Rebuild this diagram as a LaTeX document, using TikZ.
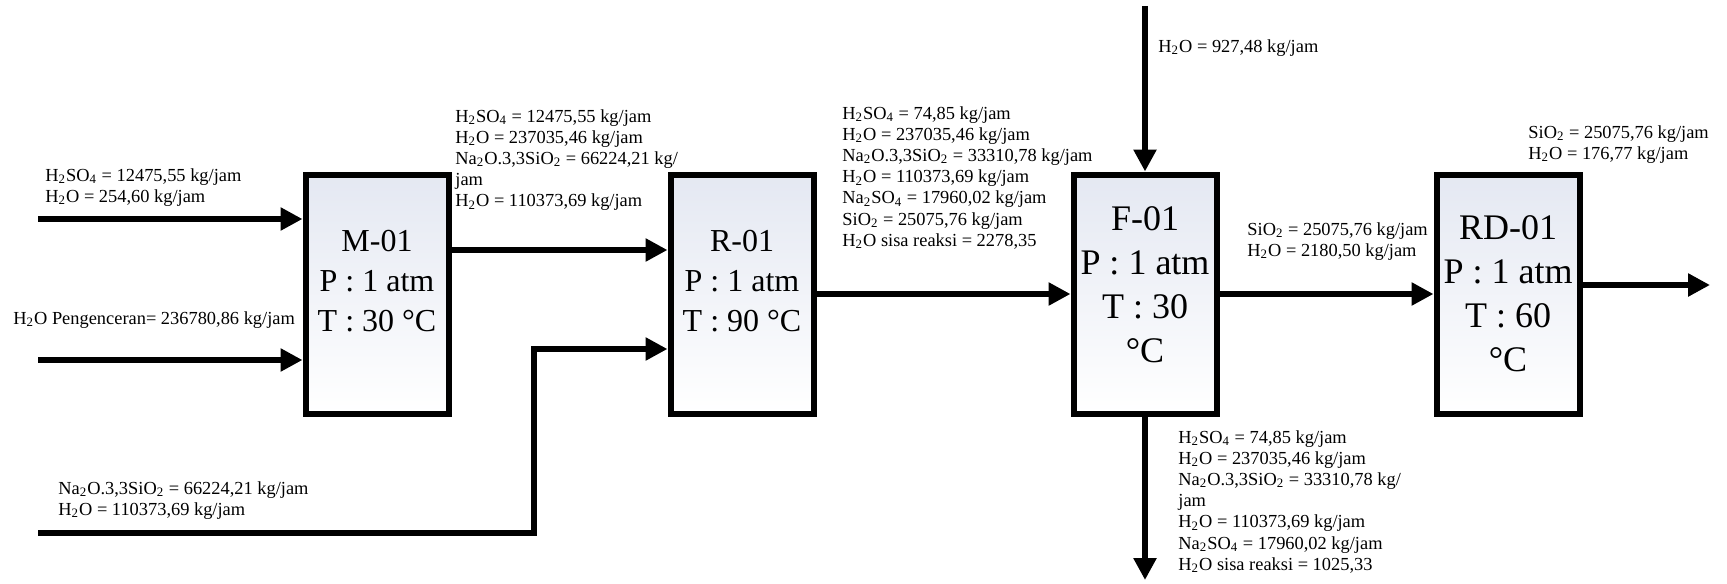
\documentclass[tikz,border=0pt]{standalone}
\usepackage{fontspec}
\setmainfont{Liberation Serif}
\usetikzlibrary{arrows.meta, positioning}
\definecolor{pfdline}{RGB}{0,0,0}
\definecolor{pfdshade}{RGB}{228,232,242}
\newcommand{\dn}[1]{\textsubscript{#1}}

\begin{document}
\begin{tikzpicture}[
  x=0.5pt, y=-0.5pt,
  unit/.style={draw=pfdline, line width=3pt, top color=pfdshade, bottom color=white,
    minimum width=71.5pt, minimum height=119.5pt, align=center, inner sep=1pt,
    text depth=13.5pt, font=\fontsize{16}{20}\selectfont},
  bigunit/.style={unit, text depth=, font=\fontsize{18}{22}\selectfont},
  flow/.style={-{Triangle[length=11pt, width=11pt]}, line width=3pt, pfdline},
  lab/.style={anchor=north west, inner sep=0pt, align=left,
    font=\fontsize{9.2}{10.6}\selectfont}
]
\useasboundingbox (0,0) rectangle (1727,583);
% process units
\node[unit] (mix) at (377,294) {M-01\\P : 1 atm\\T : 30 °C};
\node[unit, right=108pt of mix] (reac) {R-01\\P : 1 atm\\T : 90 °C};
\node[bigunit, right=127pt of reac, text depth=9pt] (filt) {F-01\\P : 1 atm\\T : 30\\°C};
\node[bigunit, right=107pt of filt] (dryer) {RD-01\\P : 1 atm\\T : 60\\°C};
% free stream ends
\coordinate (acid) at (38,219);
\coordinate (dil) at (38,360);
\coordinate (silicate) at (38,533);
\coordinate (riser) at (534,349);
\coordinate (wash) at (1145,6);
\coordinate (filtrate) at (1145,580);
\coordinate (product) at (1710,285);
% streams
\draw[flow] (acid) -- (acid -| mix.west);
\draw[flow] (dil) -- (dil -| mix.west);
\draw[flow] ([yshift=22pt]mix.east) -- ([yshift=22pt]reac.west);
\draw[flow] (silicate) -| (riser) -- (riser -| reac.west);
\draw[flow] (reac.east) -- (filt.west);
\draw[flow] (wash) -- (wash |- filt.north);
\draw[flow] (filtrate |- filt.south) -- (filtrate);
\draw[flow] (filt.east) -- (dryer.west);
\draw[flow] ([yshift=4.5pt]dryer.east) -- (product);
% stream compositions
\node[lab] (acidlab) at (45,168) {H\dn{2}SO\dn{4} = 12475,55 kg/jam\\H\dn{2}O = 254,60 kg/jam};
\node[lab] (dillab) at (13,311) {H\dn{2}O Pengenceran= 236780,86 kg/jam};
\node[lab] (mixlab) at (455,109) {H\dn{2}SO\dn{4} = 12475,55 kg/jam\\H\dn{2}O = 237035,46 kg/jam\\Na\dn{2}O.3,3SiO\dn{2} = 66224,21 kg/\\jam\\H\dn{2}O = 110373,69 kg/jam};
\node[lab] (sililab) at (58,481) {Na\dn{2}O.3,3SiO\dn{2} = 66224,21 kg/jam\\H\dn{2}O = 110373,69 kg/jam};
\node[lab] (reaclab) at (842,106) {H\dn{2}SO\dn{4} = 74,85 kg/jam\\H\dn{2}O = 237035,46 kg/jam\\Na\dn{2}O.3,3SiO\dn{2} = 33310,78 kg/jam\\H\dn{2}O = 110373,69 kg/jam\\Na\dn{2}SO\dn{4} = 17960,02 kg/jam\\SiO\dn{2} = 25075,76 kg/jam\\H\dn{2}O sisa reaksi = 2278,35};
\node[lab] (washlab) at (1158,39) {H\dn{2}O = 927,48 kg/jam};
\node[lab] (cakelab) at (1247,222) {SiO\dn{2} = 25075,76 kg/jam\\H\dn{2}O = 2180,50 kg/jam};
\node[lab] (prodlab) at (1528,125) {SiO\dn{2} = 25075,76 kg/jam\\H\dn{2}O = 176,77 kg/jam};
\node[lab] (filtlab) at (1178,430) {H\dn{2}SO\dn{4} = 74,85 kg/jam\\H\dn{2}O = 237035,46 kg/jam\\Na\dn{2}O.3,3SiO\dn{2} = 33310,78 kg/\\jam\\H\dn{2}O = 110373,69 kg/jam\\Na\dn{2}SO\dn{4} = 17960,02 kg/jam\\H\dn{2}O sisa reaksi = 1025,33};
\end{tikzpicture}
\end{document}
